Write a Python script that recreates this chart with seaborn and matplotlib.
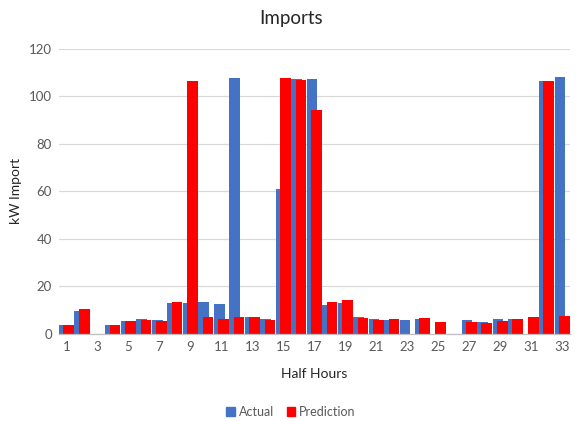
import matplotlib; matplotlib.use("Agg")
import matplotlib.pyplot as plt
from matplotlib.patches import Patch
import numpy as np
import pandas as pd
import seaborn as sns

# half-hour slots and kW import values
half_hours = np.arange(1, 34)
actual = [3.8, 9.7, 0, 3.7, 5.5, 6.2, 5.8, 13.0, 13.0, 13.4, 12.7, 107.6, 7.3, 6.2, 61.0, 107.2, 107.2,
          12.3, 13.0, 7.0, 6.2, 5.8, 5.8, 6.2, 0, 0, 5.8, 4.9, 6.3, 6.2, 0, 106.6, 108.2]
prediction = [3.8, 10.4, 0, 3.7, 5.5, 5.8, 5.5, 13.4, 106.6, 7.0, 6.2, 7.3, 7.0, 5.8, 107.9, 106.9, 94.4,
              13.4, 14.4, 6.8, 5.9, 6.2, 0, 6.8, 4.9, 0, 4.9, 4.4, 5.5, 6.2, 7.3, 106.6, 7.6]
tick_hours = half_hours[::2]
y_ticks = [0, 20, 40, 60, 80, 100, 120]

BLUE = "#4472C4"; RED = "#FF0000"; TXT = "#595959"

sns.set_theme(style="whitegrid")
plt.rcParams["font.family"] = ["Lato", "DejaVu Sans"]

df = pd.DataFrame({"hour": half_hours, "Actual": actual, "Prediction": prediction})

fig = plt.figure(figsize=(5.82, 4.21), dpi=100, facecolor="white")
ax = fig.add_axes([0.101, 0.207, 0.878, 0.677])

# Excel-style overlapping series: blue behind, red shifted right on top
shift = 0.14
sns.barplot(x=df["hour"] - shift, y=df["Actual"], native_scale=True, width=0.69,
            color=BLUE, saturation=1, linewidth=0, ax=ax)
sns.barplot(x=df["hour"] + shift, y=df["Prediction"], native_scale=True, width=0.69,
            color=RED, saturation=1, linewidth=0, ax=ax)

ax.set_xlim(0.5, 33.5); ax.set_ylim(0, 120)
ax.set_xticks(tick_hours); ax.set_xticklabels([str(h) for h in tick_hours])
ax.set_yticks(y_ticks); ax.set_yticklabels([str(v) for v in y_ticks])
ax.tick_params(axis="both", length=0, labelsize=9.5, colors=TXT, pad=5)
ax.grid(axis="x", visible=False)
ax.grid(axis="y", color="#D9D9D9", linewidth=0.9)
ax.set_axisbelow(True)
for s in ["left", "right", "top"]:
    ax.spines[s].set_visible(False)
ax.spines["bottom"].set_color("#BFBFBF"); ax.spines["bottom"].set_linewidth(0.9)

ax.set_xlabel("Half Hours", fontsize=10, color="#262626")
ax.set_ylabel("kW Import", fontsize=10, color="#262626")
ax.xaxis.set_label_coords(0.5, -0.12)
ax.yaxis.set_label_coords(-0.072, 0.5)
fig.text(0.5, 0.955, "Imports", ha="center", va="center", fontsize=13.5, color="#262626")

handles = [Patch(color=BLUE, label="Actual"), Patch(color=RED, label="Prediction")]
fig.legend(handles=handles, loc="center", bbox_to_anchor=(0.5, 0.022), ncol=2, frameon=False,
           fontsize=9, handlelength=0.7, handleheight=0.7, handletextpad=0.3, columnspacing=1.0,
           labelcolor=TXT)

fig.savefig("out.png", dpi=100, facecolor="white")
plt.close(fig)
